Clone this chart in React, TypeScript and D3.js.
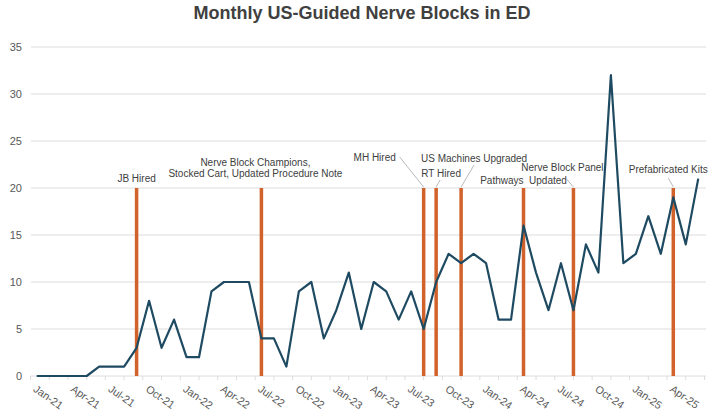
import React from "react";
import * as d3 from "d3";

const months = [
  "Jan-21","Feb-21","Mar-21","Apr-21","May-21","Jun-21","Jul-21","Aug-21","Sep-21","Oct-21","Nov-21","Dec-21",
  "Jan-22","Feb-22","Mar-22","Apr-22","May-22","Jun-22","Jul-22","Aug-22","Sep-22","Oct-22","Nov-22","Dec-22",
  "Jan-23","Feb-23","Mar-23","Apr-23","May-23","Jun-23","Jul-23","Aug-23","Sep-23","Oct-23","Nov-23","Dec-23",
  "Jan-24","Feb-24","Mar-24","Apr-24","May-24","Jun-24","Jul-24","Aug-24","Sep-24","Oct-24","Nov-24","Dec-24",
  "Jan-25","Feb-25","Mar-25","Apr-25","May-25","Jun-25",
];

const blocks = [
  0, 0, 0, 0, 0, 1, 1, 1, 3, 8, 3, 6,
  2, 2, 9, 10, 10, 10, 4, 4, 1, 9, 10, 4,
  7, 11, 5, 10, 9, 6, 9, 5, 10, 13, 12, 13,
  12, 6, 6, 16, 11, 7, 12, 7, 14, 11, 32, 12,
  13, 17, 13, 19, 14, 21,
];

const tickLabels = [
  "Jan-21","Apr-21","Jul-21","Oct-21","Jan-22","Apr-22","Jul-22","Oct-22","Jan-23","Apr-23","Jul-23","Oct-23",
  "Jan-24","Apr-24","Jul-24","Oct-24","Jan-25","Apr-25",
];

const yTicks = [0, 5, 10, 15, 20, 25, 30, 35];

const eventMonths = ["Sep-21", "Jul-22", "Aug-23", "Sep-23", "Nov-23", "Apr-24", "Aug-24", "Apr-25"];
const eventLabels = [
  ["JB Hired"],
  ["Nerve Block Champions,", "Stocked Cart, Updated Procedure Note"],
  ["MH Hired"],
  ["RT Hired"],
  ["US Machines Upgraded"],
  ["Pathways  Updated"],
  ["Nerve Block Panel"],
  ["Prefabricated Kits"],
];
const eventHeight = 20;

// layout of annotation labels (offset of label centre from line top), and optional leader
const labelLayout = [
  { dx: 0, dy: -10, leader: null },
  { dx: -6, dy: -20, leader: null },
  { dx: -49, dy: -31, leader: [-24, -31, 0, -1] },
  { dx: 5, dy: -15, leader: [4, -8, 0, -1] },
  { dx: 13, dy: -30, leader: [13, -23, 0, -1] },
  { dx: 0, dy: -8, leader: null },
  { dx: -11, dy: -21, leader: [-7, -9, 0, -1] },
  { dx: -5, dy: -19, leader: [-5, -10, 0, -1] },
];

const W = 720;
const H = 418;
const FONT = "'Liberation Sans', Arial, sans-serif";

export default function App() {
  const x = d3.scaleBand<string>().domain(months).range([30.5, 704.5]).paddingInner(0).paddingOuter(0);
  const y = d3.scaleLinear().domain([0, 35]).range([376, 47]);
  const cx = (m: string) => (x(m) as number) + x.bandwidth() / 2;

  const line = d3
    .line<number>()
    .x((_, i) => cx(months[i]))
    .y((d) => y(d));

  const tickPositions: number[] = [];
  for (let k = 0; k <= months.length; k += 1.5) {
    tickPositions.push(30.5 + k * x.bandwidth());
  }

  return (
    <svg width={W} height={H} style={{ position: "absolute", left: 0, top: 0, background: "#fff" }} fontFamily={FONT}>
      <rect width={W} height={H} fill="#fff" />
      <text x={362} y={19} textAnchor="middle" fontSize={18} fontWeight="bold" fill="#404040">
        Monthly US-Guided Nerve Blocks in ED
      </text>

      {yTicks.map((t) => (
        <g key={t}>
          <line x1={31} x2={706} y1={y(t)} y2={y(t)} stroke="#dcdcdc" strokeWidth={1} />
          <text x={22} y={y(t)} dy="0.35em" textAnchor="end" fontSize={11} fill="#595959">
            {t}
          </text>
        </g>
      ))}

      {tickPositions.map((p, i) => (
        <line key={i} x1={p} x2={p} y1={376} y2={380} stroke="#dcdcdc" strokeWidth={1} />
      ))}

      {tickLabels.map((lab) => (
        <text
          key={lab}
          transform={`translate(${cx(lab) + 0.5},${384}) rotate(35)`}
          dy="0.75em"
          fontSize={10.8}
          fill="#595959"
          textAnchor="start"
        >
          {lab}
        </text>
      ))}

      {eventMonths.map((m, i) => (
        <line
          key={"ev" + i}
          x1={cx(m)}
          x2={cx(m)}
          y1={y(0)}
          y2={y(eventHeight)}
          stroke="#D2622B"
          strokeWidth={3.5}
        />
      ))}

      <path d={line(blocks) || ""} fill="none" stroke="#1E4A62" strokeWidth={2.2} strokeLinejoin="round" />

      {eventMonths.map((m, i) => {
        const lx = cx(m);
        const ly = y(eventHeight);
        const L = labelLayout[i];
        const lines = eventLabels[i];
        const n = lines.length;
        return (
          <g key={"lab" + i}>
            {L.leader && (
              <line
                x1={lx + L.leader[0]}
                y1={ly + L.leader[1]}
                x2={lx + L.leader[2]}
                y2={ly + L.leader[3]}
                stroke="#a6a6a6"
                strokeWidth={0.8}
              />
            )}
            {lines.map((t, j) => (
              <text
                key={j}
                x={lx + L.dx}
                y={ly + L.dy + (j - (n - 1) / 2) * 11.5}
                dy="0.35em"
                textAnchor="middle"
                fontSize={10}
                fill="#404040"
                style={{ whiteSpace: "pre" }}
              >
                {t}
              </text>
            ))}
          </g>
        );
      })}
    </svg>
  );
}
